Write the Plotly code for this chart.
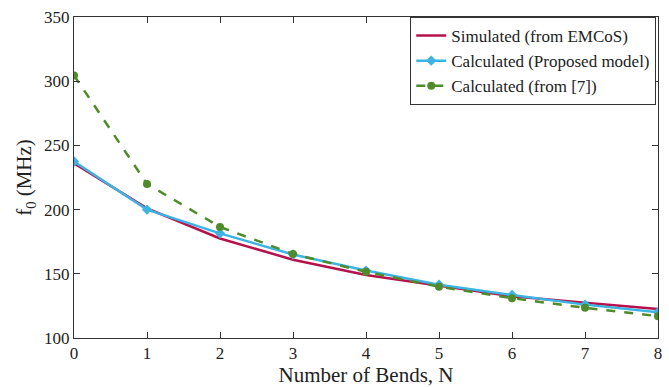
import plotly.graph_objects as go

bends = [0, 1, 2, 3, 4, 5, 6, 7, 8]
simulated = [236, 201, 177.5, 161, 149, 140.5, 132.5, 127.5, 122.5]
proposed = [237.5, 200, 181.5, 165, 152.5, 141.5, 133.5, 126, 120]
ref7 = [304.5, 220, 186.5, 165.5, 151.5, 140, 131, 123.5, 117]

font = "Liberation Serif"

fig = go.Figure()
fig.add_trace(go.Scatter(x=bends, y=simulated, mode="lines", name="Simulated (from EMCoS)",
                         line=dict(color="#B5124B", width=2.5)))
fig.add_trace(go.Scatter(x=bends, y=proposed, mode="lines+markers", name="Calculated (Proposed model)",
                         line=dict(color="#3DB3E3", width=2.5),
                         marker=dict(symbol="diamond", size=8, color="#3DB3E3")))
fig.add_trace(go.Scatter(x=bends, y=ref7, mode="lines+markers", name="Calculated (from [7])",
                         line=dict(color="#4F8B2B", width=2.5, dash="dash"),
                         marker=dict(symbol="circle", size=8, color="#4F8B2B")))

axis_common = dict(showgrid=False, zeroline=False, showline=True, linecolor="#333",
                   linewidth=1, mirror="ticks", ticks="inside", ticklen=6, tickcolor="#333",
                   tickfont=dict(family=font, size=17, color="#222"))

fig.update_layout(
    width=669, height=387,
    margin=dict(l=74, r=7, t=17, b=48),
    paper_bgcolor="white", plot_bgcolor="white",
    font=dict(family=font, color="#222"),
    xaxis=dict(range=[0, 8], dtick=1,
               title=dict(text="Number of Bends, N", font=dict(family=font, size=21), standoff=2),
               **axis_common),
    yaxis=dict(range=[100, 350], dtick=50,
               title=dict(text="f<sub>0</sub> (MHz)", font=dict(family=font, size=21), standoff=6),
               **axis_common),
    legend=dict(x=0.997, y=1.0, xanchor="right", yanchor="top",
                bordercolor="#333", borderwidth=1, bgcolor="white",
                font=dict(family=font, size=17, color="#222"),
                tracegroupgap=0, itemwidth=30),
    showlegend=True,
)

fig.write_html("out.html", config={"displayModeBar": False},
               post_script="document.body.style.margin='0';document.body.style.overflow='hidden';")
